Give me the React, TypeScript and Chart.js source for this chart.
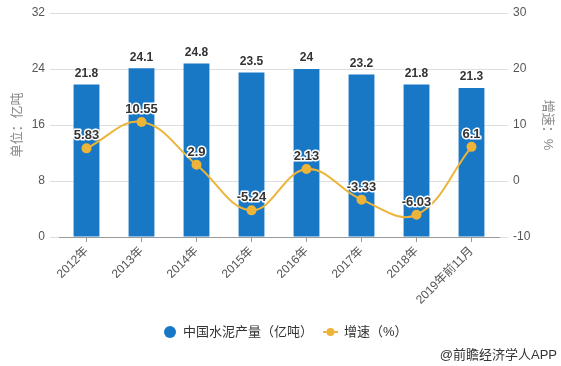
import React, { useEffect, useRef } from "react";
import { Chart, registerables } from "chart.js";

Chart.register(...registerables);

const categories = ["2012年", "2013年", "2014年", "2015年", "2016年", "2017年", "2018年", "2019年前11月"];
const output = [21.8, 24.1, 24.8, 23.5, 24, 23.2, 21.8, 21.3];
const growth = [5.83, 10.55, 2.9, -5.24, 2.13, -3.33, -6.03, 6.1];
const leftTicks = { min: 0, max: 32, step: 8 };
const rightTicks = { min: -10, max: 30, step: 10 };
const seriesNames = ["中国水泥产量（亿吨）", "增速（%）"];
const leftTitle = "单位：亿吨";
const rightTitle = "增速：%";
const sourceText = "@前瞻经济学人APP";

const BAR = "#1878c6";
const LINE = "#eeb439";
const FONT = "Arial, 'Liberation Sans', 'Noto Sans CJK SC', sans-serif";

const labelPlugin = {
  id: "labels",
  afterDatasetsDraw(chart: any) {
    const ctx = chart.ctx;
    ctx.save();
    const barMeta = chart.getDatasetMeta(1);
    ctx.font = `bold 12px ${FONT}`;
    ctx.fillStyle = "#333";
    ctx.textAlign = "center";
    ctx.textBaseline = "bottom";
    barMeta.data.forEach((el: any, i: number) => {
      ctx.fillText(String(output[i]), el.x, el.y - 5);
    });
    const lineMeta = chart.getDatasetMeta(0);
    ctx.font = `bold 13px ${FONT}`;
    ctx.lineWidth = 3;
    ctx.strokeStyle = "#fff";
    ctx.lineJoin = "round";
    lineMeta.data.forEach((el: any, i: number) => {
      const t = String(growth[i]);
      ctx.strokeText(t, el.x, el.y - 6);
      ctx.fillStyle = "#333";
      ctx.fillText(t, el.x, el.y - 6);
    });
    ctx.restore();
  },
  afterDraw(chart: any) {
    const ctx = chart.ctx;
    ctx.save();
    const ly = 332;
    // bar legend
    ctx.fillStyle = BAR;
    ctx.beginPath();
    ctx.arc(170, ly, 6, 0, Math.PI * 2);
    ctx.fill();
    ctx.font = `13px ${FONT}`;
    ctx.fillStyle = "#333";
    ctx.textAlign = "left";
    ctx.textBaseline = "middle";
    ctx.fillText(seriesNames[0], 183, ly);
    // line legend
    ctx.strokeStyle = LINE;
    ctx.lineWidth = 2;
    ctx.beginPath();
    ctx.moveTo(323, ly);
    ctx.lineTo(338, ly);
    ctx.stroke();
    ctx.fillStyle = LINE;
    ctx.beginPath();
    ctx.arc(330.5, ly, 4, 0, Math.PI * 2);
    ctx.fill();
    ctx.fillStyle = "#333";
    ctx.fillText(seriesNames[1], 344, ly);
    // source
    ctx.textAlign = "right";
    ctx.fillText(sourceText, 557, 355);
    ctx.restore();
  },
};

export default function App() {
  const ref = useRef<HTMLCanvasElement>(null);
  useEffect(() => {
    if (!ref.current) return;
    const chart = new Chart(ref.current, {
      type: "bar",
      data: {
        labels: categories,
        datasets: [
          {
            type: "line",
            label: seriesNames[1],
            data: growth,
            yAxisID: "y1",
            borderColor: LINE,
            backgroundColor: LINE,
            borderWidth: 2,
            pointRadius: 4,
            pointBackgroundColor: LINE,
            pointBorderColor: LINE,
            tension: 0.4,
            order: 0,
          } as any,
          {
            type: "bar",
            label: seriesNames[0],
            data: output,
            yAxisID: "y",
            backgroundColor: BAR,
            barPercentage: 0.47,
            categoryPercentage: 1,
            order: 1,
          },
        ],
      },
      options: {
        animation: false,
        responsive: true,
        maintainAspectRatio: false,
        layout: { padding: { top: 13, bottom: 0, left: 0, right: 0 } },
        plugins: { legend: { display: false }, tooltip: { enabled: false } },
        scales: {
          x: {
            offset: true,
            grid: { display: true, drawOnChartArea: false, offset: false, tickLength: 5, color: "#999" },
            border: { color: "#999" },
            ticks: { color: "#555", font: { size: 12, family: FONT }, maxRotation: 45, minRotation: 45, padding: 2 },
            afterFit: (s: any) => { s.height = 129; },
          },
          y: {
            position: "left",
            min: leftTicks.min,
            max: leftTicks.max,
            ticks: { stepSize: leftTicks.step, color: "#555", font: { size: 12, family: FONT }, padding: 5 },
            grid: { color: "#dedede", tickLength: 9 },
            border: { display: false },
            title: { display: true, text: leftTitle, color: "#888", font: { size: 13, family: FONT }, padding: { top: 10, bottom: 0 } },
            afterFit: (s: any) => { s.width = 59; },
          },
          y1: {
            position: "right",
            min: rightTicks.min,
            max: rightTicks.max,
            ticks: { stepSize: rightTicks.step, color: "#555", font: { size: 12, family: FONT }, padding: 5 },
            grid: { color: "#dedede", tickLength: 9, drawOnChartArea: false },
            border: { display: false },
            title: { display: true, text: rightTitle, color: "#888", font: { size: 13, family: FONT }, padding: { top: 6, bottom: 0 } },
            afterFit: (s: any) => { s.width = 62; },
          },
        },
      },
      plugins: [labelPlugin],
    });
    return () => chart.destroy();
  }, []);
  return (
    <div style={{ position: "fixed", left: 0, top: 0, width: 561, height: 366, background: "#fff" }}>
      <canvas ref={ref} />
    </div>
  );
}
